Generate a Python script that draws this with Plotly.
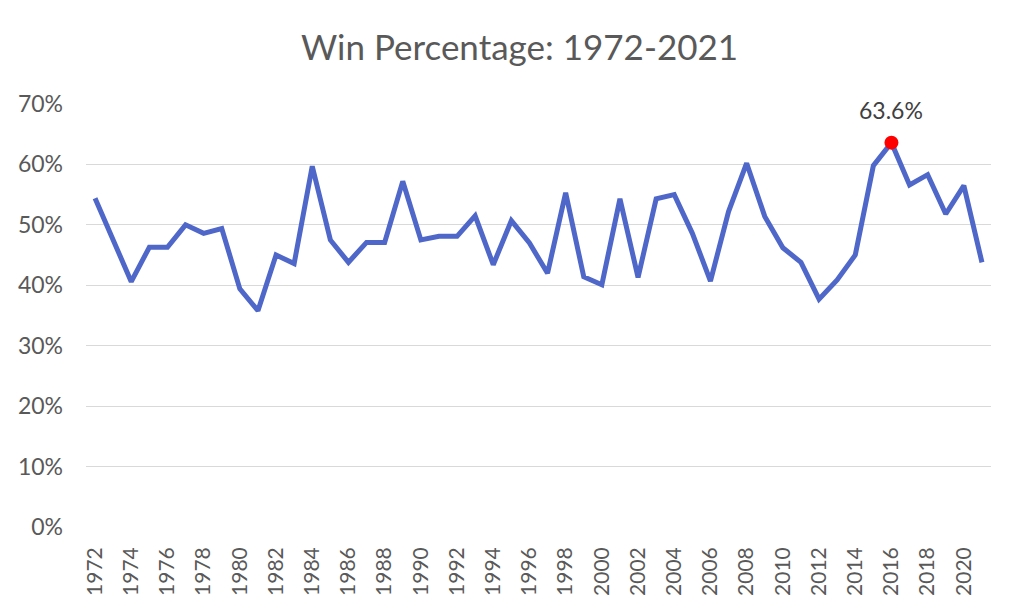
import plotly.graph_objects as go

years = list(range(1972, 2022))
win_pct = [0.544, 0.475, 0.406, 0.463, 0.463, 0.500, 0.486, 0.494, 0.394, 0.358,
           0.450, 0.436, 0.597, 0.475, 0.438, 0.471, 0.471, 0.572, 0.475, 0.481,
           0.481, 0.515, 0.434, 0.507, 0.470, 0.420, 0.553, 0.414, 0.401, 0.543,
           0.413, 0.543, 0.550, 0.486, 0.407, 0.522, 0.602, 0.514, 0.462, 0.438,
           0.377, 0.409, 0.450, 0.598, 0.636, 0.566, 0.583, 0.518, 0.565, 0.438]
peak_year = 2016
peak_val = win_pct[years.index(peak_year)]
y_ticks = [0, 0.1, 0.2, 0.3, 0.4, 0.5, 0.6, 0.7]
x_ticks = list(range(1972, 2022, 2))

font_family = "Lato, 'Open Sans', sans-serif"
txt = "#595959"

fig = go.Figure()
fig.add_trace(go.Scatter(x=years, y=win_pct, mode="lines",
                         line=dict(color="#4E67C8", width=5), hoverinfo="skip",
                         showlegend=False))
fig.add_trace(go.Scatter(x=[peak_year], y=[peak_val], mode="markers",
                         marker=dict(color="#FF0000", size=14),
                         showlegend=False))
fig.add_annotation(x=peak_year, y=peak_val, text=f"{peak_val*100:.1f}%",
                   showarrow=False, yshift=33, yanchor="middle",
                   font=dict(size=23, color="#404040", family=font_family))

fig.update_layout(
    width=1023, height=613,
    margin=dict(l=78, r=40, t=96, b=94),
    paper_bgcolor="white", plot_bgcolor="white",
    font=dict(family=font_family, color=txt),
    title=dict(text="Win Percentage: 1972-2021", x=0.5, xanchor="center",
               y=0.935, yanchor="middle", font=dict(size=35, color=txt)),
    xaxis=dict(range=[1971.5, 2021.5], tickvals=x_ticks, ticktext=[str(v) for v in x_ticks],
               tickangle=-90, tickfont=dict(size=21, color=txt), showgrid=False,
               showline=False, zeroline=False, ticks="", ticklabelstandoff=15,
               automargin=False),
    yaxis=dict(range=[0, 0.7], tickvals=y_ticks, tickformat=".0%",
               tickfont=dict(size=23, color=txt), showgrid=True, gridcolor="#D9D9D9",
               gridwidth=1.3, zeroline=False, showline=False, ticks="", ticklabelstandoff=22,
               automargin=False),
)
fig.write_html("out.html")
